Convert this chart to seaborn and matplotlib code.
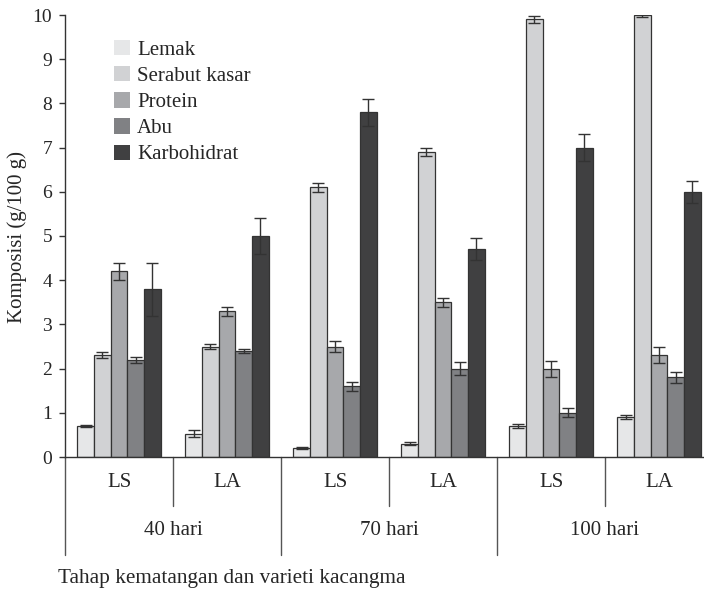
import pandas as pd
import matplotlib.pyplot as plt
import seaborn as sns
from matplotlib.patches import Patch
import matplotlib.transforms as mtransforms

# data
stages = ['40 hari', '70 hari', '100 hari']
varieties = ['LS', 'LA']
components = ['Lemak', 'Serabut kasar', 'Protein', 'Abu', 'Karbohidrat']

lemak = [0.7, 0.53, 0.2, 0.3, 0.7, 0.9]
lemak_err = [0.03, 0.08, 0.03, 0.03, 0.05, 0.04]
serabut = [2.3, 2.5, 6.1, 6.9, 9.9, 10.0]
serabut_err = [0.07, 0.05, 0.1, 0.1, 0.07, 0.04]
protein = [4.2, 3.3, 2.5, 3.5, 2.0, 2.3]
protein_err = [0.2, 0.1, 0.13, 0.1, 0.18, 0.18]
abu = [2.2, 2.4, 1.6, 2.0, 1.0, 1.8]
abu_err = [0.07, 0.05, 0.1, 0.15, 0.1, 0.12]
karbo = [3.8, 5.0, 7.8, 4.7, 7.0, 6.0]
karbo_err = [0.6, 0.4, 0.3, 0.25, 0.3, 0.25]

colors = ['#e6e7e8', '#d1d2d4', '#a7a8ab', '#808184', '#404041']

values = [lemak, serabut, protein, abu, karbo]
errors = [lemak_err, serabut_err, protein_err, abu_err, karbo_err]

slots = [f'{s} {v}' for s in stages for v in varieties]
rows = []
for comp, vals in zip(components, values):
    for slot, val in zip(slots, vals):
        rows.append({'slot': slot, 'komponen': comp, 'nilai': val})
df = pd.DataFrame(rows)

sns.set_style('white')
plt.rcParams['font.family'] = ['Liberation Serif', 'DejaVu Serif']

fig = plt.figure(figsize=(7.04, 5.9), dpi=100)
W, H = 704, 590
ax = fig.add_axes([65 / W, 1 - 457 / H, 648 / W, 442 / H])

sns.barplot(data=df, x='slot', y='nilai', hue='komponen', order=slots,
            hue_order=components, palette=colors, width=0.77, ax=ax,
            edgecolor='#333333', linewidth=0.9, legend=False, saturation=1)

# error bars on each bar
for cont, errs, vals in zip(ax.containers, errors, values):
    xs = [b.get_x() + b.get_width() / 2 for b in cont]
    ax.errorbar(xs, vals, yerr=errs, fmt='none', ecolor='#333333',
                elinewidth=1, capsize=4.5, capthick=1, zorder=5)

ax.set_xlim(-0.5, 5.5)
ax.set_ylim(0, 10)
ax.set_yticks(range(0, 11))
ax.tick_params(axis='y', direction='out', length=4.3, width=1, color='#333333',
               labelsize=14, pad=5, left=True)
ax.set_xticks([])
ax.set_xlabel('')
ax.set_ylabel('')
for side in ['top', 'right']:
    ax.spines[side].set_visible(False)
for side in ['left', 'bottom']:
    ax.spines[side].set_color('#333333')
    ax.spines[side].set_linewidth(1)

fig.text(17 / W, 1 - 237 / H, 'Komposisi (g/100 g)', rotation=90,
         ha='center', va='center', fontsize=15)

# hierarchical category axis
trans = mtransforms.blended_transform_factory(ax.transData, ax.transAxes)
for i, slot in enumerate(slots):
    ax.text(i, -30 / 442, varieties[i % 2], transform=trans, ha='center',
            va='baseline', fontsize=15)
for k, st in enumerate(stages):
    ax.text(2 * k + 0.5, -78 / 442, st, transform=trans, ha='center',
            va='baseline', fontsize=15)
    ax.plot([2 * k - 0.5, 2 * k - 0.5], [0, -98 / 442], transform=trans,
            color='#555555', lw=1, clip_on=False)
    ax.plot([2 * k + 0.5, 2 * k + 0.5], [0, -49 / 442], transform=trans,
            color='#555555', lw=1, clip_on=False)

fig.text(58 / W, 1 - 583 / H, 'Tahap kematangan dan varieti kacangma',
         ha='left', va='baseline', fontsize=15.3)

handles = [Patch(facecolor=c, edgecolor='none') for c in colors]
ax.legend(handles, components, loc='upper left', frameon=False,
          bbox_to_anchor=(114 / W, 1 - 40 / H), bbox_transform=fig.transFigure,
          fontsize=15, handlelength=0.75, handleheight=0.75, handletextpad=0.35,
          labelspacing=0.3, borderpad=0, borderaxespad=0)

fig.savefig('out.png', dpi=100)
